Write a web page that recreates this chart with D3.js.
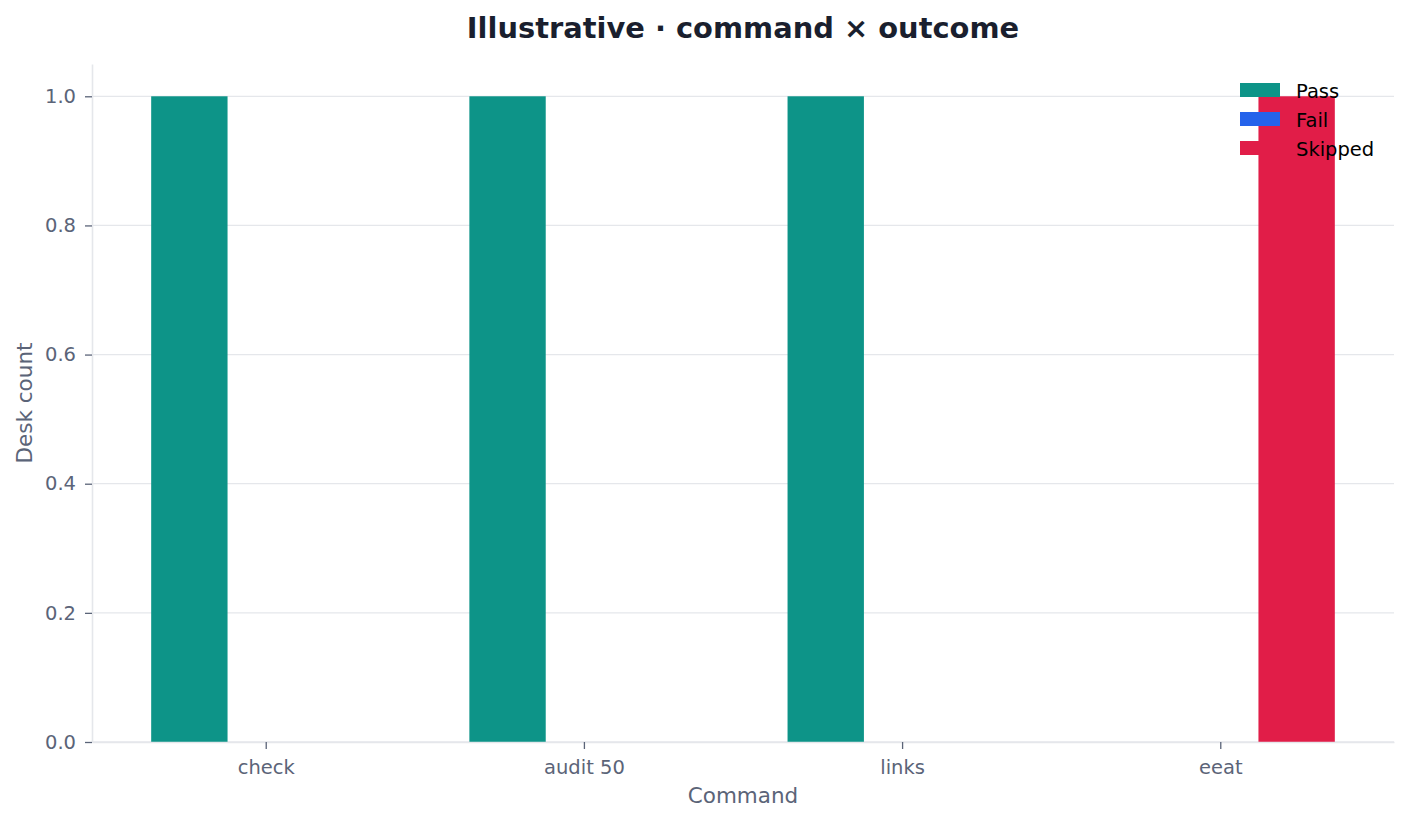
<!DOCTYPE html>
<html>
<head>
<meta charset="utf-8">
<script src="https://cdn.jsdelivr.net/npm/d3@7"></script>
<style>
  body { margin: 0; background: #ffffff; }
  text { font-family: "DejaVu Sans", sans-serif; }
</style>
</head>
<body>
<div class="chart"></div>
<script>
// data
var commands = ["check", "audit 50", "links", "eeat"];
var outcomes = ["Pass", "Fail", "Skipped"];
var passCounts = [1, 1, 1, 0];
var failCounts = [0, 0, 0, 0];
var skippedCounts = [0, 0, 0, 1];
var yTicks = [0, 0.2, 0.4, 0.6, 0.8, 1.0];

var seriesColors = ["#0d9488", "#2563eb", "#e11d48"];
var seriesValues = [passCounts, failCounts, skippedCounts];

var svgWidth = 1410;
var svgHeight = 821;

var margin = { top: 64, right: 16, bottom: 79, left: 92 };
var chartWidth = svgWidth - margin.left - margin.right;
var chartHeight = svgHeight - margin.top - margin.bottom;

var svg = d3.select(".chart")
  .append("svg")
  .attr("width", svgWidth)
  .attr("height", svgHeight);

var chartGroup = svg.append("g")
  .attr("transform", `translate(${margin.left}, ${margin.top})`);

// bar width in category units, like matplotlib
var barW = 0.24;
var lo = -1.5 * barW, hi = commands.length - 1 + 1.5 * barW;
var pad = (hi - lo) * 0.05;

var xScale = d3.scaleLinear()
  .domain([lo - pad, hi + pad])
  .range([0, chartWidth]);

var yScale = d3.scaleLinear()
  .domain([0, 1.05])
  .range([chartHeight, 0]);

// grid lines
chartGroup.append("g")
  .selectAll("line")
  .data(yTicks)
  .enter()
  .append("line")
  .attr("x1", 0)
  .attr("x2", chartWidth)
  .attr("y1", d => yScale(d))
  .attr("y2", d => yScale(d))
  .attr("stroke", "#e5e7eb")
  .attr("stroke-width", 1.3);

// bars
outcomes.forEach(function(name, i) {
  var offset = (i - 1) * barW;
  chartGroup.append("g")
    .selectAll("rect")
    .data(seriesValues[i])
    .enter()
    .append("rect")
    .attr("x", (d, j) => xScale(j + offset - barW / 2))
    .attr("width", (d, j) => xScale(j + offset + barW / 2) - xScale(j + offset - barW / 2))
    .attr("y", d => yScale(d))
    .attr("height", d => yScale(0) - yScale(d))
    .attr("fill", seriesColors[i]);
});

// axes
var leftAxis = d3.axisLeft(yScale)
  .tickValues(yTicks)
  .tickFormat(d3.format(".1f"))
  .tickSizeInner(7)
  .tickSizeOuter(0)
  .tickPadding(9);

var bottomAxis = d3.axisBottom(xScale)
  .tickValues(d3.range(commands.length))
  .tickFormat(i => commands[i])
  .tickSizeInner(7)
  .tickSizeOuter(0)
  .tickPadding(11);

var yAxisG = chartGroup.append("g")
  .call(leftAxis);

var xAxisG = chartGroup.append("g")
  .attr("transform", `translate(0, ${chartHeight})`)
  .call(bottomAxis);

[yAxisG, xAxisG].forEach(function(g) {
  g.select(".domain").attr("stroke", "#e5e7eb").attr("stroke-width", 1.6);
  g.selectAll(".tick line").attr("stroke", "#5b6478").attr("stroke-width", 1.3);
  g.selectAll(".tick text")
    .attr("fill", "#5b6478")
    .style("font-size", "19.5px")
    .style("font-family", "DejaVu Sans");
});

// title and labels
svg.append("text")
  .attr("x", margin.left + chartWidth / 2)
  .attr("y", 38)
  .attr("text-anchor", "middle")
  .attr("fill", "#1a1f2e")
  .style("font-size", "28.9px")
  .style("font-weight", "bold")
  .text("Illustrative · command × outcome");

svg.append("text")
  .attr("x", margin.left + chartWidth / 2)
  .attr("y", 803)
  .attr("text-anchor", "middle")
  .attr("fill", "#5b6478")
  .style("font-size", "21.5px")
  .text("Command");

svg.append("text")
  .attr("transform", `translate(32, ${margin.top + chartHeight / 2}) rotate(-90)`)
  .attr("text-anchor", "middle")
  .attr("fill", "#5b6478")
  .style("font-size", "21.5px")
  .text("Desk count");

// legend
var legend = svg.append("g")
  .attr("transform", "translate(1240, 83)");

var legendRows = legend.selectAll("g")
  .data(outcomes)
  .enter()
  .append("g")
  .attr("transform", (d, i) => `translate(0, ${i * 29})`);

legendRows.append("rect")
  .attr("width", 40)
  .attr("height", 14)
  .attr("fill", (d, i) => seriesColors[i]);

legendRows.append("text")
  .attr("x", 56)
  .attr("y", 15)
  .attr("fill", "#000000")
  .style("font-size", "19.5px")
  .text(d => d);
</script>
</body>
</html>
